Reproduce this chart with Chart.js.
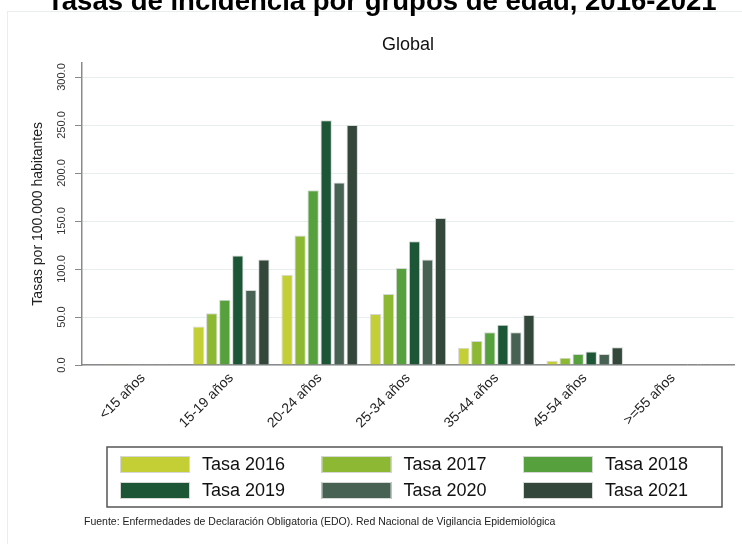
<!DOCTYPE html>
<html><head><meta charset="utf-8">
<script src="https://cdn.jsdelivr.net/npm/chart.js@4.4.1/dist/chart.umd.min.js"></script>
<style>html,body{margin:0;padding:0;background:#fff}#wrap{width:742px;height:544px;position:relative}</style>
</head><body><div id="wrap"><canvas id="c" width="742" height="544"></canvas></div>
<script>
const pageTitle = "Tasas de incidencia por grupos de edad, 2016-2021";
const chartTitle = "Global";
const yAxisTitle = "Tasas por 100.000 habitantes";
const sourceNote = "Fuente: Enfermedades de Declaración Obligatoria (EDO). Red Nacional de Vigilancia Epidemiológica";
const categories = ["<15 años", "15-19 años", "20-24 años", "25-34 años", "35-44 años", "45-54 años", ">=55 años"];
const seriesNames = ["Tasa 2016", "Tasa 2017", "Tasa 2018", "Tasa 2019", "Tasa 2020", "Tasa 2021"];
const tasa2016 = [0.2, 40, 94, 53, 18, 4.5, 0.4];
const tasa2017 = [0.2, 54, 135, 74, 25, 7.5, 0.5];
const tasa2018 = [0.3, 68, 182, 101, 34, 11.5, 0.6];
const tasa2019 = [0.3, 114, 255, 129, 42, 14, 0.6];
const tasa2020 = [0.3, 78, 190, 110, 34, 11.5, 1.0];
const tasa2021 = [0.3, 110, 250, 153, 52, 18.5, 1.0];
const yTicks = [0, 50, 100, 150, 200, 250, 300];
const seriesColors = ["#c3cf35", "#8cb833", "#56a03d", "#1c5637", "#476253", "#33473b"];

const FONT = "'Liberation Sans', Arial, sans-serif";
Chart.defaults.font.family = FONT;
const allSeries = [tasa2016, tasa2017, tasa2018, tasa2019, tasa2020, tasa2021];

const decor = {
  id: 'decor',
  beforeDraw(chart) {
    const ctx = chart.ctx;
    ctx.save();
    ctx.fillStyle = '#fff';
    ctx.fillRect(0, 0, chart.width, chart.height);
    ctx.strokeStyle = '#e9eded';
    ctx.lineWidth = 1;
    ctx.strokeRect(7.5, 11.5, chart.width, chart.height);
    ctx.restore();
  },
  afterLayout(chart) {
    const ca = chart.chartArea;
    const mid = (ca.left + ca.right) / 2;
    const t = chart.titleBlock;
    if (t) { const w = t.right - t.left; t.left = mid - w / 2; t.right = mid + w / 2; }
  },
  afterDraw(chart) {
    const ctx = chart.ctx;
    ctx.save();
    ctx.fillStyle = '#000';
    ctx.textBaseline = 'alphabetic';
    ctx.textAlign = 'left';
    ctx.font = "bold 26px " + FONT;
    const w = ctx.measureText(pageTitle).width;
    const size = 26 * 670 / w;
    ctx.font = "bold " + size.toFixed(2) + "px " + FONT;
    ctx.fillText(pageTitle, 47, 9.5);
    const bx = 107, by = 447, bw = 615, bh = 60;
    ctx.strokeStyle = '#555';
    ctx.lineWidth = 1.5;
    ctx.strokeRect(bx, by, bw, bh);
    ctx.font = "18px " + FONT;
    ctx.textBaseline = 'middle';
    chart.data.datasets.forEach((ds, i) => {
      const col = i % 3, row = Math.floor(i / 3);
      const sx = 120 + col * 201.5, sy = 456 + row * 26;
      ctx.fillStyle = ds.backgroundColor;
      ctx.fillRect(sx, sy, 70, 17);
      ctx.strokeStyle = '#d5d8d5';
      ctx.lineWidth = 1;
      ctx.strokeRect(sx + 0.5, sy + 0.5, 69, 16);
      ctx.fillStyle = '#111';
      ctx.fillText(ds.label, sx + 82, sy + 9);
    });
    ctx.font = "10.5px " + FONT;
    ctx.fillStyle = '#222';
    ctx.fillText(sourceNote, 84, 522);
    ctx.restore();
  }
};

new Chart(document.getElementById('c'), {
  type: 'bar',
  data: {
    labels: categories.map((_, i) => i),
    datasets: seriesNames.map((name, i) => ({
      label: name,
      data: allSeries[i],
      backgroundColor: seriesColors[i],
      borderColor: '#d5d8d5',
      borderWidth: 1,
      categoryPercentage: 0.885,
      barPercentage: 0.87
    }))
  },
  options: {
    responsive: false,
    devicePixelRatio: 1,
    animation: false,
    layout: { padding: { left: 0, right: 8, top: 0, bottom: 0 } },
    plugins: {
      legend: { display: false },
      tooltip: { enabled: false },
      title: {
        display: true,
        text: chartTitle,
        color: '#111',
        font: { size: 18, weight: 'normal', family: FONT },
        padding: { top: 34, bottom: 7 }
      }
    },
    scales: {
      x: {
        type: 'linear',
        offset: false,
        min: -0.69,
        max: 6.69,
        afterBuildTicks: s => { s.ticks = categories.map((_, i) => ({ value: i })); },
        afterFit: s => { s.height = 179; },
        grid: { display: false, offset: false },
        border: { display: true, color: '#8a8a8a', width: 1.5 },
        ticks: {
          autoSkip: false,
          minRotation: 45,
          maxRotation: 45,
          padding: -3,
          color: '#222',
          font: { size: 14 },
          callback: v => categories[v]
        }
      },
      y: {
        min: 0,
        max: 315,
        afterBuildTicks: s => { s.ticks = yTicks.map(v => ({ value: v })); },
        afterFit: s => { s.width = 82; },
        grid: { color: '#e6eeef', tickColor: '#8a8a8a', tickLength: 7, lineWidth: 1 },
        border: { display: true, color: '#8a8a8a', width: 1.5 },
        ticks: {
          minRotation: 90,
          maxRotation: 90,
          crossAlign: 'center',
          padding: -1,
          color: '#333',
          font: { size: 11 },
          callback: v => Number(v).toFixed(1)
        },
        title: {
          display: true,
          text: yAxisTitle,
          color: '#222',
          font: { size: 14 },
          padding: { top: 29.6, bottom: 0 }
        }
      }
    }
  },
  plugins: [decor]
});
</script>
</body></html>
